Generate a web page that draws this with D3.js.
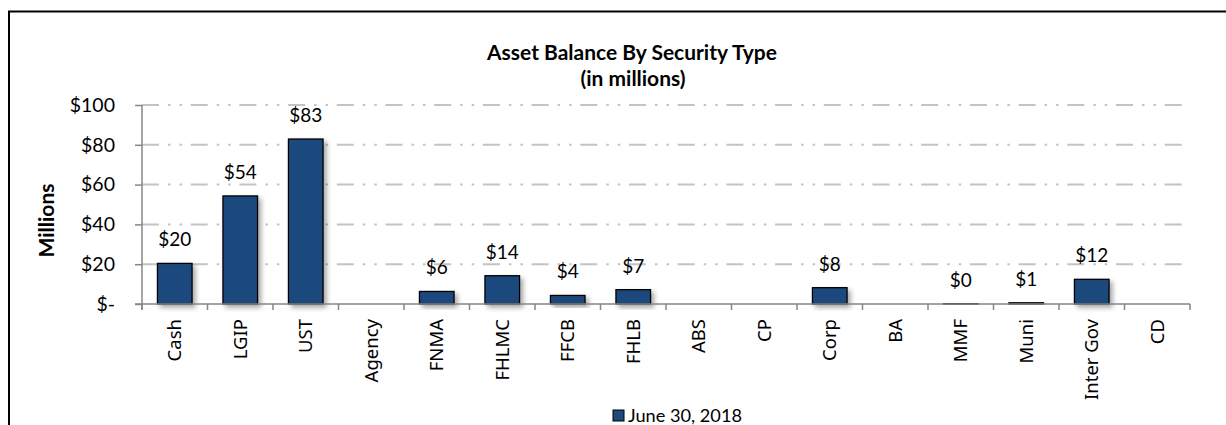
<!DOCTYPE html>
<html>
<head>
<meta charset="utf-8">
<script src="https://cdn.jsdelivr.net/npm/d3@7"></script>
<style>
  html, body { margin: 0; padding: 0; background: #fff; }
  svg { display: block; }
</style>
</head>
<body>
<svg id="chart" width="1226" height="425"></svg>
<script>
const categories = ["Cash","LGIP","UST","Agency","FNMA","FHLMC","FFCB","FHLB","ABS","CP","Corp","BA","MMF","Muni","Inter Gov","CD"];
const values = [20.4, 54.3, 82.9, null, 6.3, 14.2, 4.3, 7.2, null, null, 8.2, null, 0.2, 0.6, 12.4, null];
const dataLabels = ["$20","$54","$83","","$6","$14","$4","$7","","","$8","","$0","$1","$12",""];
const yTicks = [0, 20, 40, 60, 80, 100];
const yTickLabels = ["$-","$20","$40","$60","$80","$100"];
const seriesName = "June 30, 2018";
const titleLines = ["Asset Balance By Security Type", "(in millions)"];
const yAxisTitle = "Millions";

const svg = d3.select("#chart");
const font = "Lato, 'Open Sans', sans-serif";
const catFont = "'Noto Sans', 'Open Sans', sans-serif";

// fit a text element's font size so its length matches a target width
function fitSize(sel, target) {
  const node = sel.node();
  const base = parseFloat(sel.attr("font-size"));
  const len = node.getComputedTextLength();
  if (len > 0) sel.attr("font-size", (base * target / len).toFixed(2));
  return sel;
}

// outer chart border
svg.append("rect").attr("x", 9).attr("y", 11.5).attr("width", 1300).attr("height", 500)
  .attr("fill", "none").attr("stroke", "#000").attr("stroke-width", 2);

const defs = svg.append("defs");
const f = defs.append("filter").attr("id", "shadow").attr("x", "-30%").attr("y", "-30%").attr("width", "170%").attr("height", "170%");
f.append("feDropShadow").attr("dx", 3).attr("dy", 3).attr("stdDeviation", 2.5)
  .attr("flood-color", "#000").attr("flood-opacity", 0.35);

const x0 = 142, x1 = 1190, yTop = 105, yBot = 304;
const x = d3.scaleBand().domain(categories).range([x0, x1]).paddingInner(0.472).paddingOuter(0.236);
const xb = d3.scaleBand().domain(categories).range([x0, x1]);
const y = d3.scaleLinear().domain([0, 100]).range([yBot, yTop]);

// gridlines
svg.append("g").selectAll("line").data(yTicks.filter(d => d > 0)).join("line")
  .attr("x1", x0).attr("x2", 1184).attr("y1", d => y(d)).attr("y2", d => y(d))
  .attr("stroke", "#c3c3c3").attr("stroke-width", 2)
  .attr("stroke-dasharray", "17,9,2.5,9,2.5,8.7");

// bars
const barData = categories.map((c, i) => ({c, v: values[i], l: dataLabels[i]})).filter(d => d.v != null);
svg.append("g").selectAll("rect").data(barData).join("rect")
  .attr("x", d => x(d.c)).attr("width", x.bandwidth())
  .attr("y", d => y(d.v)).attr("height", d => y(0) - y(d.v))
  .attr("fill", "#1F497D").attr("stroke", "#000").attr("stroke-width", 1.3)
  .attr("filter", "url(#shadow)");

// data labels
svg.append("g").selectAll("text").data(barData).join("text")
  .attr("x", d => x(d.c) + x.bandwidth() / 2).attr("y", d => y(d.v) - 17)
  .attr("text-anchor", "middle").attr("font-family", font).attr("font-size", 19).attr("fill", "#000")
  .text(d => d.l);

// y axis
const yAxis = d3.axisLeft(y).tickValues(yTicks).tickFormat((d, i) => yTickLabels[i]).tickSize(7).tickPadding(20);
const gy = svg.append("g").attr("transform", `translate(${x0},0)`).call(yAxis);
gy.select(".domain").remove();
gy.selectAll(".tick line").attr("stroke", "#868686").attr("stroke-width", 1.5);
gy.selectAll(".tick text").attr("font-family", font).attr("font-size", 19.5).attr("fill", "#000");
svg.append("line").attr("x1", x0).attr("x2", x0).attr("y1", yTop).attr("y2", yBot + 6)
  .attr("stroke", "#868686").attr("stroke-width", 1.5);

// x axis
const xAxis = d3.axisBottom(xb).tickSize(0).tickFormat(d => d);
const gx = svg.append("g").attr("transform", `translate(0,${yBot})`).call(xAxis);
gx.select(".domain").remove();
gx.selectAll(".tick text")
  .attr("font-family", catFont).attr("font-size", 18.5).attr("fill", "#000")
  .attr("transform", "rotate(-90)").attr("text-anchor", "end")
  .attr("x", -15).attr("y", 0).attr("dy", "0.35em");
svg.append("line").attr("x1", x0 - 7).attr("x2", x1).attr("y1", yBot).attr("y2", yBot)
  .attr("stroke", "#868686").attr("stroke-width", 1.5);
svg.append("g").selectAll("line").data(d3.range(categories.length + 1)).join("line")
  .attr("x1", i => x0 + i * xb.step()).attr("x2", i => x0 + i * xb.step())
  .attr("y1", yBot).attr("y2", yBot + 6)
  .attr("stroke", "#868686").attr("stroke-width", 1.5);

// titles
const t1 = svg.append("text").attr("x", 632).attr("y", 60).attr("text-anchor", "middle")
  .attr("font-family", font).attr("font-weight", "bold").attr("font-size", 19).text(titleLines[0]);
fitSize(t1, 290);
const t2 = svg.append("text").attr("x", 633).attr("y", 86).attr("text-anchor", "middle")
  .attr("font-family", font).attr("font-weight", "bold").attr("font-size", t1.attr("font-size")).text(titleLines[1]);

const yt = svg.append("text").attr("transform", `translate(54,${(yTop + yBot) / 2 + 16}) rotate(-90)`)
  .attr("text-anchor", "middle").attr("font-family", font).attr("font-weight", "bold").attr("font-size", 20)
  .text(yAxisTitle);
fitSize(yt, 74);

// legend
const lg = svg.append("g").attr("transform", "translate(613,410)");
lg.append("rect").attr("x", 0).attr("y", 0).attr("width", 11).attr("height", 11)
  .attr("fill", "#1F497D").attr("stroke", "#000").attr("stroke-width", 1);
const lt = lg.append("text").attr("x", 15).attr("y", 11.5).attr("font-family", font).attr("font-size", 19).text(seriesName);
fitSize(lt, 114);
</script>
</body>
</html>
